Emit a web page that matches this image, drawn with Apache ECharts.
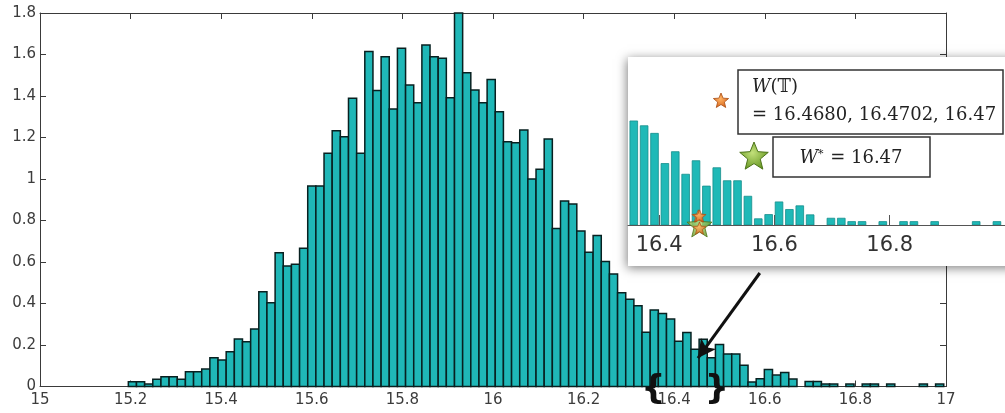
<!DOCTYPE html>
<html>
<head>
<meta charset="utf-8">
<script src="https://cdn.jsdelivr.net/npm/echarts@6/dist/echarts.min.js"></script>
<style>
  html, body { margin: 0; padding: 0; background: #ffffff; }
  #chart { width: 1005px; height: 413px; }
</style>
</head>
<body>
<div id="chart"></div>
<script>
// Histogram layout: left edge of the first bin and the common bin width
const binStart = 15.195;
const binWidth = 0.018;

// Density of each bin, from 15.195 upward
const density = [
  0.023, 0.023, 0.012, 0.035, 0.047, 0.047, 0.035, 0.071, 0.071, 0.084,
  0.139, 0.128, 0.168, 0.229, 0.216, 0.277, 0.457, 0.404, 0.645, 0.581,
  0.589, 0.666, 0.966, 0.966, 1.124, 1.233, 1.204, 1.389, 1.124, 1.614,
  1.426, 1.589, 1.337, 1.630, 1.453, 1.368, 1.646, 1.589, 1.582, 1.392,
  1.800, 1.512, 1.429, 1.368, 1.480, 1.324, 1.180, 1.175, 1.236, 1.000,
  1.047, 1.193, 0.762, 0.894, 0.880, 0.749, 0.647, 0.728, 0.602, 0.542,
  0.452, 0.420, 0.389, 0.262, 0.369, 0.352, 0.325, 0.218, 0.260, 0.180,
  0.228, 0.138, 0.203, 0.157, 0.157, 0.102, 0.022, 0.037, 0.082, 0.055,
  0.068, 0.036, 0.000, 0.024, 0.024, 0.012, 0.012, 0.000, 0.012, 0.000,
  0.012, 0.012, 0.000, 0.012, 0.000, 0.000, 0.000, 0.012, 0.000, 0.012
];

// Tick labels
const mainXTicks = [15, 15.2, 15.4, 15.6, 15.8, 16, 16.2, 16.4, 16.6, 16.8, 17];
const mainYTicks = [0, 0.2, 0.4, 0.6, 0.8, 1, 1.2, 1.4, 1.6, 1.8];
const insetXTicks = [16.4, 16.6, 16.8];

// Estimates W(T) and the reference value W*
const wTValues = [16.4680, 16.4702, 16.47];
const wTOffsets = [0.032, 0.032, -0.011];
const wStar = 16.47;

// Interval of the window marked under the main axis
const windowX = [16.354, 16.494];

// Arrow from the zoom panel down to the tail of the histogram
const arrowFrom = [16.589, 0.547];
const arrowTo = [16.4525, 0.137];

// Five-pointed star outline on a 100x100 box
const STAR_PTS = [[50, 0], [62.9, 32.2], [97.6, 34.5], [70.9, 56.8], [79.4, 90.5],
                  [50, 72], [20.6, 90.5], [29.1, 56.8], [2.4, 34.5], [37.1, 32.2]];
const STAR = 'M' + STAR_PTS.map(p => p[0] + ',' + p[1]).join(' L') + ' Z';

function starPolygon(cx, cy, size) {
  const k = size / 100;
  return STAR_PTS.map(p => [cx + (p[0] - 50) * k, cy + (p[1] - 50) * k]);
}

const bins = density.map((h, i) => [binStart + i * binWidth, binStart + (i + 1) * binWidth, h]);

const step = a => Math.round((a[1] - a[0]) * 1e6) / 1e6;

const labelFont = { fontFamily: 'DejaVu Sans', fontSize: 15, color: '#3c3c3c' };
const axisLineStyle = { color: '#3a3a3a', width: 1 };

function histBar(params, api) {
  const h = api.value(2);
  if (h <= 0) return null;
  const p0 = api.coord([api.value(0), h]);
  const p1 = api.coord([api.value(1), 0]);
  return {
    type: 'rect',
    shape: { x: p0[0], y: p0[1], width: p1[0] - p0[0], height: p1[1] - p0[1] },
    style: { fill: '#1fb7b7', stroke: '#082020', lineWidth: 1.5 }
  };
}

function zoomBar(params, api) {
  const h = api.value(2);
  if (h <= 0) return null;
  const x0 = api.value(0), x1 = api.value(1);
  const w = x1 - x0;
  const p0 = api.coord([x0 + 0.13 * w, h]);
  const p1 = api.coord([x1 - 0.13 * w, 0]);
  return {
    type: 'rect',
    shape: { x: p0[0], y: p0[1], width: p1[0] - p0[0], height: p1[1] - p0[1] },
    style: { fill: '#1fb9b7', stroke: '#168e8c', lineWidth: 0.8 }
  };
}

const orangeStops = [{ offset: 0, color: '#ffb565' }, { offset: 1, color: '#d9661c' }];
const greenStops = [{ offset: 0, color: '#c2e07a' }, { offset: 1, color: '#6a9a26' }];
const orangeFill = new echarts.graphic.RadialGradient(0.45, 0.4, 0.6, orangeStops);
const greenFill = new echarts.graphic.RadialGradient(0.45, 0.4, 0.6, greenStops);

const chart = echarts.init(document.getElementById('chart'), null, { renderer: 'canvas' });

chart.setOption({
  animation: false,
  backgroundColor: '#ffffff',
  grid: [
    { left: 40, right: 59, top: 13, bottom: 26.5 },
    { left: 628, top: 55.8, width: 410, height: 169.2 }
  ],
  xAxis: [
    {
      type: 'value', gridIndex: 0, position: 'bottom',
      min: mainXTicks[0], max: mainXTicks[mainXTicks.length - 1], interval: step(mainXTicks),
      axisLine: { onZero: false, lineStyle: axisLineStyle },
      axisTick: { inside: true, length: 6, lineStyle: axisLineStyle },
      axisLabel: Object.assign({ margin: 6, showMinLabel: true, showMaxLabel: true }, labelFont),
      splitLine: { show: false }
    },
    {
      type: 'value', gridIndex: 0, position: 'top',
      min: mainXTicks[0], max: mainXTicks[mainXTicks.length - 1], interval: step(mainXTicks),
      axisLine: { onZero: false, lineStyle: axisLineStyle },
      axisTick: { inside: true, length: 6, lineStyle: axisLineStyle },
      axisLabel: { show: false },
      splitLine: { show: false }
    },
    {
      type: 'value', gridIndex: 1, z: 12, position: 'bottom',
      min: 16.346, max: 17.0,
      axisLine: { onZero: false, lineStyle: { color: '#555555', width: 1 } },
      axisTick: { inside: true, length: 10, customValues: insetXTicks, lineStyle: { color: '#555555' } },
      axisLabel: { customValues: insetXTicks, margin: 10, fontFamily: 'DejaVu Sans', fontSize: 21, color: '#333333' },
      splitLine: { show: false }
    }
  ],
  yAxis: [
    {
      type: 'value', gridIndex: 0, position: 'left',
      min: mainYTicks[0], max: mainYTicks[mainYTicks.length - 1], interval: step(mainYTicks),
      axisLine: { show: true, lineStyle: axisLineStyle },
      axisTick: { show: true, inside: true, length: 6, lineStyle: axisLineStyle },
      axisLabel: Object.assign({ margin: 4, showMinLabel: true, showMaxLabel: true }, labelFont),
      splitLine: { show: false }
    },
    {
      type: 'value', gridIndex: 0, position: 'right',
      min: mainYTicks[0], max: mainYTicks[mainYTicks.length - 1], interval: step(mainYTicks),
      axisLine: { show: true, lineStyle: axisLineStyle },
      axisTick: { show: true, inside: true, length: 6, lineStyle: axisLineStyle },
      axisLabel: { show: false },
      splitLine: { show: false }
    },
    {
      type: 'value', gridIndex: 1, show: false, min: 0, max: 0.6
    }
  ],
  series: [
    {
      type: 'custom', name: 'density', xAxisIndex: 0, yAxisIndex: 0, z: 2,
      renderItem: histBar,
      encode: { x: [0, 1], y: 2 },
      data: bins,
      markLine: {
        silent: true, z: 5,
        symbol: ['none', 'arrow'], symbolSize: [14, 18],
        label: { show: false },
        lineStyle: { color: '#111111', width: 3, type: 'solid' },
        data: [[{ coord: arrowFrom }, { coord: arrowTo }]]
      }
    },
    {
      type: 'custom', name: 'zoom', xAxisIndex: 2, yAxisIndex: 2, z: 12, clip: true,
      renderItem: zoomBar,
      encode: { x: [0, 1], y: 2 },
      data: bins
    },
    {
      type: 'scatter', name: 'W*', xAxisIndex: 2, yAxisIndex: 2, z: 14, clip: false,
      symbol: 'path://' + STAR, symbolSize: 25, symbolKeepAspect: true,
      itemStyle: { color: greenFill, borderColor: '#4d7419', borderWidth: 1 },
      data: [[wStar, 0]]
    },
    {
      type: 'scatter', name: 'W(T)', xAxisIndex: 2, yAxisIndex: 2, z: 15, clip: false,
      symbol: 'path://' + STAR, symbolSize: 13, symbolKeepAspect: true,
      itemStyle: { color: orangeFill, borderColor: '#a94c10', borderWidth: 0.8 },
      data: wTValues.map((v, i) => [v, wTOffsets[i]])
    }
  ],
  graphic: {
    elements: [
      {
        id: 'zoomPanel', type: 'rect', z: 10,
        shape: { x: 628, y: 57, width: 420, height: 209 },
        style: { fill: '#ffffff', shadowBlur: 10, shadowColor: 'rgba(0,0,0,0.5)', shadowOffsetX: -1, shadowOffsetY: 2 }
      },
      {
        id: 'boxWT', type: 'rect', z: 16,
        shape: { x: 738, y: 70, width: 265, height: 64 },
        style: { fill: '#ffffff', stroke: '#333333', lineWidth: 1.5 }
      },
      {
        id: 'textWT1', type: 'text', z: 17, x: 752, y: 87,
        style: {
          text: '{w|W}(𝕋)',
          fontFamily: 'DejaVu Serif', fontSize: 18, fill: '#222222',
          verticalAlign: 'middle', align: 'left',
          rich: { w: { fontFamily: 'DejaVu Serif', fontStyle: 'italic', fontSize: 18, fill: '#222222' } }
        }
      },
      {
        id: 'textWT2', type: 'text', z: 17, x: 752, y: 115,
        style: {
          text: '= 16.4680, 16.4702, 16.47',
          fontFamily: 'DejaVu Serif', fontSize: 18, fill: '#222222',
          verticalAlign: 'middle', align: 'left'
        }
      },
      {
        id: 'boxWStar', type: 'rect', z: 16,
        shape: { x: 773, y: 137, width: 157, height: 40 },
        style: { fill: '#ffffff', stroke: '#333333', lineWidth: 1.5 }
      },
      {
        id: 'textWStar', type: 'text', z: 17, x: 851, y: 158,
        style: {
          text: '{w|W}{s|*} = 16.47',
          fontFamily: 'DejaVu Serif', fontSize: 18, fill: '#222222',
          verticalAlign: 'middle', align: 'center',
          rich: {
            w: { fontFamily: 'DejaVu Serif', fontStyle: 'italic', fontSize: 18, fill: '#222222' },
            s: { fontFamily: 'DejaVu Serif', fontSize: 11, fill: '#222222', verticalAlign: 'top', padding: [0, 1, 8, 0] }
          }
        }
      },
      {
        id: 'keyOrange', type: 'polygon', z: 17,
        shape: { points: starPolygon(721, 101, 16) },
        style: { fill: orangeFill, stroke: '#a94c10', lineWidth: 0.8 }
      },
      {
        id: 'keyGreen', type: 'polygon', z: 17,
        shape: { points: starPolygon(754, 157, 30) },
        style: { fill: greenFill, stroke: '#4d7419', lineWidth: 1 }
      }
    ]
  }
});

// Braces marking the window on the main axis
const pLeft = chart.convertToPixel({ xAxisIndex: 0, yAxisIndex: 0 }, [windowX[0], 0]);
const pRight = chart.convertToPixel({ xAxisIndex: 0, yAxisIndex: 0 }, [windowX[1], 0]);
chart.setOption({
  graphic: {
    elements: [
      {
        id: 'braceL', type: 'text', z: 20, x: pLeft[0], y: pLeft[1] + 4,
        style: { text: '{', fontFamily: 'DejaVu Sans', fontWeight: 'bold', fontSize: 34, fill: '#111111', align: 'center', verticalAlign: 'middle' }
      },
      {
        id: 'braceR', type: 'text', z: 20, x: pRight[0], y: pRight[1] + 4,
        style: { text: '}', fontFamily: 'DejaVu Sans', fontWeight: 'bold', fontSize: 34, fill: '#111111', align: 'center', verticalAlign: 'middle' }
      }
    ]
  }
});
</script>
</body>
</html>
